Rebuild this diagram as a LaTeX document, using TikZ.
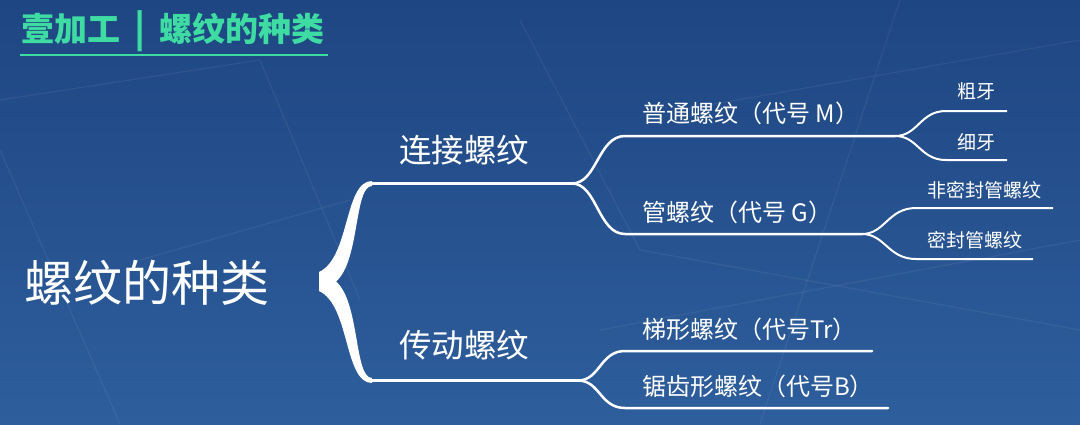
\documentclass[tikz,border=0pt]{standalone}
\usepackage{fontspec}
\newfontfamily\cjk{Noto Sans CJK SC}
\definecolor{bgtop}{RGB}{30,70,130}
\definecolor{bgbot}{RGB}{46,94,156}
\definecolor{teal}{RGB}{62,220,162}
\tikzset{
  lvl0/.style={font=\cjk\fontsize{49}{49}\selectfont, text=white, inner sep=0pt},
  lvl1/.style={font=\cjk\fontsize{32.5}{32.5}\selectfont, text=white, inner sep=0pt, anchor=west},
  lvl2/.style={font=\cjk\fontsize{24}{24}\selectfont, text=white, inner sep=0pt, anchor=west},
  lvl3/.style={font=\cjk\fontsize{19}{19}\selectfont, text=white, inner sep=0pt, anchor=west},
  mainline/.style={draw=white, line width=3pt, line cap=round},
  subline/.style={draw=white, line width=2.5pt, line cap=round},
  leafline/.style={draw=white, line width=2pt},
  faint/.style={draw=white, opacity=0.06, line width=1.2pt}
}
\begin{document}
\begin{tikzpicture}[x=1pt,y=-1pt]
\useasboundingbox (0,0) rectangle (1080,424);
\shade[top color=bgtop, bottom color=bgbot] (0,0) rectangle (1080,424);
% faint blueprint lines
\draw[faint] (0,100) -- (260,60) -- (360,300);
\draw[faint] (140,260) -- (350,200);
\draw[faint] (0,150) -- (120,424);
\draw[faint] (520,20) -- (640,250) -- (1080,330);
\draw[faint] (900,0) -- (760,424);
\draw[faint] (600,330) -- (1080,240);
\draw[faint] (680,110) -- (1080,40);

% title
\node (title) [font=\cjk\bfseries\fontsize{33}{33}\selectfont, text=teal, inner sep=0pt, anchor=west] at (21,31) {壹加工\hspace{14pt}{\fontsize{36}{36}\selectfont|}\hspace{14pt}螺纹的种类};
\draw[teal, line width=1.5pt] (20,55) -- (328,55);

% root
\node (root) [lvl0] at (147,283) {螺纹的种类};

% brace
\fill[white] (372,181) .. controls (344,181) and (350,258) .. (319,272) -- (319,291)
  .. controls (350,305) and (344,383) .. (372,383) -- (372,378)
  .. controls (354,378) and (360,302) .. (336,281.5)
  .. controls (360,261) and (354,186) .. (372,186) -- cycle;

\coordinate (bt) at (372,183.5);
\coordinate (bb) at (372,380.5);
\coordinate (s1) at (572,183.5);
\coordinate (s2) at (578,380.5);
\draw[mainline] (bt) -- (s1);
\draw[mainline] (bb) -- (s2);

% level 1
\node (lj) [lvl1] at (399,150) {连接螺纹};
\node (cd) [lvl1] at (399,345) {传动螺纹};

% level 2 lines
\coordinate (m0) at (625,136);
\coordinate (m1) at (895,136);
\coordinate (g0) at (625,234);
\coordinate (g1) at (862,234);
\coordinate (t0) at (625,351);
\coordinate (t1) at (872,351);
\coordinate (j0) at (625,408);
\coordinate (j1) at (888,408);
\draw[subline] (s1) .. controls (597,183.5) and (598,136) .. (m0) -- (m1);
\draw[subline] (s1) .. controls (597,183.5) and (598,234) .. (g0) -- (g1);
\draw[subline] (s2) .. controls (600,380.5) and (600,351) .. (t0) -- (t1);
\draw[subline] (s2) .. controls (600,380.5) and (600,408) .. (j0) -- (j1);

\node (pt) [lvl2] at (642,113) {普通螺纹（代号 M）};
\node (gl) [lvl2] at (642,212) {管螺纹（代号 G）};
\node (tx) [lvl2] at (642,329) {梯形螺纹（代号Tr）};
\node (jc) [lvl2] at (642,386) {锯齿形螺纹（代号B）};

% level 3 lines
\coordinate (c0) at (946,111);
\coordinate (c1) at (1007,111);
\coordinate (x0) at (946,160);
\coordinate (x1) at (1007,160);
\coordinate (f0) at (916,208);
\coordinate (f1) at (1053,208);
\coordinate (k0) at (916,259);
\coordinate (k1) at (1033,259);
\draw[leafline] (m1) .. controls (918,136) and (920,111) .. (c0) -- (c1);
\draw[leafline] (m1) .. controls (918,136) and (920,160) .. (x0) -- (x1);
\draw[leafline] (g1) .. controls (885,234) and (888,208) .. (f0) -- (f1);
\draw[leafline] (g1) .. controls (885,234) and (888,259) .. (k0) -- (k1);

\node (cy) [lvl3] at (957,91) {粗牙};
\node (xy) [lvl3] at (957,142) {细牙};
\node (fm) [lvl3] at (927,190) {非密封管螺纹};
\node (mf) [lvl3] at (927,240) {密封管螺纹};
\end{tikzpicture}
\end{document}
